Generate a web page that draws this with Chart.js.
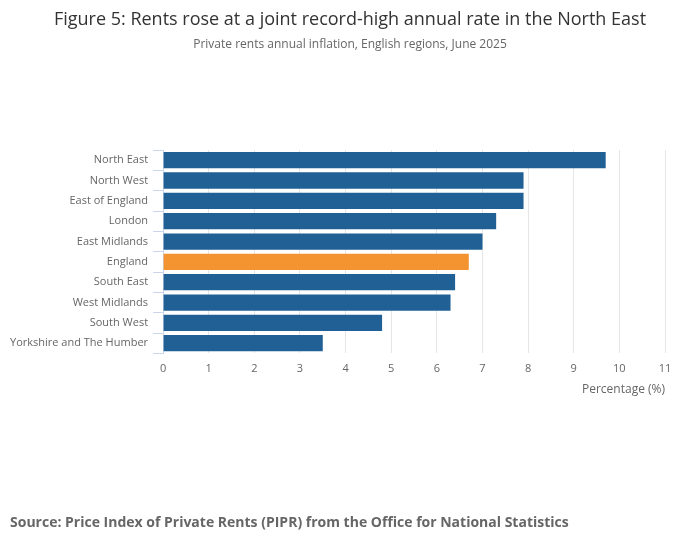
<!DOCTYPE html>
<html>
<head>
<meta charset="utf-8">
<script src="https://cdn.jsdelivr.net/npm/chart.js@4/dist/chart.umd.min.js"></script>
<style>
  html, body { margin: 0; padding: 0; background: #fff; }
  #wrap { position: relative; width: 700px; height: 549px; font-family: "Open Sans", sans-serif; }
  #wrap canvas { position: absolute; left: 0; top: 0; }
  .txt { position: absolute; left: 0; width: 700px; text-align: center; white-space: nowrap; }
  #title { top: 7px; font-size: 18px; line-height: 22px; color: #333; }
  #subtitle { top: 36px; font-size: 12px; line-height: 16px; color: #666; }
  #source {
    position: absolute; left: 10px; top: 512px;
    font-weight: bold; font-size: 14px; color: #666;
  }
</style>
</head>
<body>
<div id="wrap">
  <canvas id="myChart" width="700" height="549"></canvas>
  <div class="txt" id="title">Figure 5: Rents rose at a joint record-high annual rate in the North East</div>
  <div class="txt" id="subtitle">Private rents annual inflation, English regions, June 2025</div>
  <div id="source">Source: Price Index of Private Rents (PIPR) from the Office for National Statistics</div>
</div>
<script>
var regions = ['North East', 'North West', 'East of England', 'London', 'East Midlands',
  'England', 'South East', 'West Midlands', 'South West', 'Yorkshire and The Humber'];
var inflation = [9.7, 7.9, 7.9, 7.3, 7.0, 6.7, 6.4, 6.3, 4.8, 3.5];
var highlight = 'England';

var barColours = regions.map(function (r) {
  return r === highlight ? '#f39431' : '#206095';
});

Chart.defaults.font.family = '"Open Sans", sans-serif';
Chart.defaults.color = '#666';

var ctx = document.getElementById('myChart').getContext('2d');
var myChart = new Chart(ctx, {
  type: 'bar',
  data: {
    labels: regions,
    datasets: [{
      label: 'Private rents annual inflation',
      data: inflation,
      backgroundColor: barColours,
      barPercentage: 0.8,
      categoryPercentage: 1
    }]
  },
  options: {
    indexAxis: 'y',
    responsive: false,
    animation: false,
    layout: { padding: { left: 5, right: 35, top: 150, bottom: 148 } },
    plugins: {
      legend: { display: false },
      tooltip: { enabled: false }
    },
    scales: {
      x: {
        min: 0,
        max: 11,
        ticks: { stepSize: 1, padding: 9, font: { size: 11 }, color: '#666' },
        grid: { color: '#e6e6e6', drawTicks: false },
        border: { display: false },
        title: {
          display: true,
          text: 'Percentage (%)',
          align: 'end',
          color: '#666',
          font: { size: 12 },
          padding: { top: -2, bottom: 4 }
        }
      },
      y: {
        ticks: { padding: 5, font: { size: 11 }, color: '#666' },
        grid: { offset: true, drawOnChartArea: false, drawTicks: true, tickLength: 10, color: '#ccd6eb' },
        border: { color: '#ccd6eb' }
      }
    }
  }
});
</script>
</body>
</html>
